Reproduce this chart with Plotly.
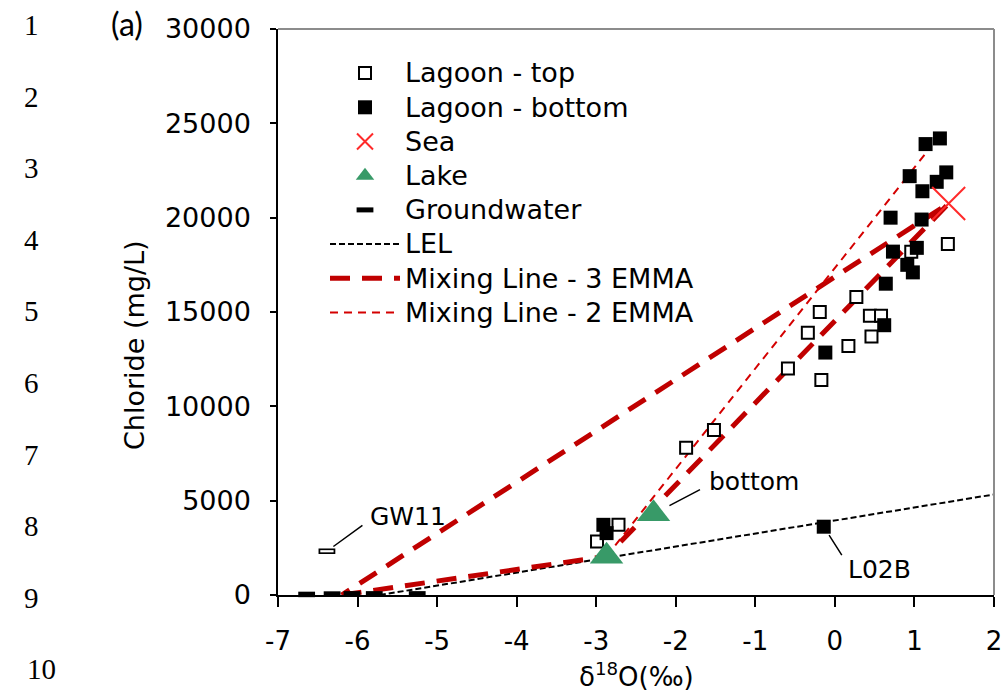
import plotly.graph_objects as go

# ---------------- data ----------------
lagoon_top_x = [1.42, 0.96, 0.27, -0.19, -0.34, 0.44, 0.58, 0.46, 0.17, -0.59, -0.17, -1.52, -1.87, -2.99, -2.72]
lagoon_top_y = [18600, 18200, 15800, 15000, 13900, 14800, 14800, 13700, 13200, 12000, 11400, 8750, 7800, 2830, 3720]

lagoon_bot_x = [1.32, 1.14, 1.40, 0.94, 1.28, 1.10, 0.70, 1.09, 0.73, 1.03, 0.91, 0.98, 0.64, 0.62, -0.12, -0.14, -2.91, -2.87]
lagoon_bot_y = [24200, 23900, 22400, 22200, 21900, 21400, 20000, 19900, 18200, 18400, 17500, 17100, 16500, 14300, 12850, 3620, 3720, 3280]

sea_x = [1.43]
sea_y = [20750]

lake_x = [-2.87, -2.28]
lake_y = [2050, 4300]

gw11_x = [-6.385]
gw11_y = [2320]
gw_x = [-6.64, -6.32, -6.07, -5.79, -5.25]
gw_y = [30, 50, 60, 60, 60]

lel_x = [-5.72, 2.0]
lel_y = [0, 5330]

gw_end_x = -6.2
gw_end_y = 0
emma3_x = [gw_end_x, lake_x[0], sea_x[0], gw_end_x]
emma3_y = [gw_end_y, lake_y[0], sea_y[0], gw_end_y]

emma2_x = [lake_x[0], 1.14]
emma2_y = [lake_y[0], 23400]

x_ticks = [-7, -6, -5, -4, -3, -2, -1, 0, 1, 2]
x_tick_labels = ["-7", "-6", "-5", "-4", "-3", "-2", "-1", "0", "1", "2"]
y_ticks = [0, 5000, 10000, 15000, 20000, 25000, 30000]
y_tick_labels = ["0", "5000", "10000", "15000", "20000", "25000", "30000"]

line_numbers = ["1", "2", "3", "4", "5", "6", "7", "8", "9", "10"]

# ---------------- layout geometry (pixels) ----------------
W, H = 1005, 697
L, R, T, B = 278, 994, 29, 595
PW, PH = R - L, B - T


def px(xp):
    return (xp - L) / PW


def py(yp):
    return (B - yp) / PH


SANS = "DejaVu Sans"


def leg(name):
    return '<span style="font-size:27px">' + name + '</span>'


fig = go.Figure()

# lines first (drawn underneath markers)
fig.add_trace(go.Scatter(x=lel_x, y=lel_y, mode="lines", name=leg("LEL"),
                         line=dict(color="black", width=2, dash="6px,3px"), legendrank=6))
fig.add_trace(go.Scatter(x=emma3_x, y=emma3_y, mode="lines", name=leg("Mixing Line - 3 EMMA"),
                         line=dict(color="#C00000", width=5, dash="20px,12px"), legendrank=7))
fig.add_trace(go.Scatter(x=emma2_x, y=emma2_y, mode="lines", name=leg("Mixing Line - 2 EMMA"),
                         line=dict(color="#D40000", width=2, dash="8px,6px"), legendrank=8))

# markers
fig.add_trace(go.Scatter(x=lagoon_top_x, y=lagoon_top_y, mode="markers", name=leg("Lagoon - top"),
                         marker=dict(symbol="square", size=12, color="white",
                                     line=dict(color="black", width=2)), legendrank=1))
fig.add_trace(go.Scatter(x=lagoon_bot_x, y=lagoon_bot_y, mode="markers", name=leg("Lagoon - bottom"),
                         marker=dict(symbol="square", size=14, color="black",
                                     line=dict(color="black", width=0)), legendrank=2))
fig.add_trace(go.Scatter(x=sea_x, y=sea_y, mode="markers", name=leg("Sea"),
                         marker=dict(symbol="x-thin-open", size=33, color="#FF2A2A",
                                     line=dict(color="#FF2A2A", width=2)), legendrank=3))
fig.add_trace(go.Scatter(x=lake_x, y=lake_y, mode="markers", name=leg("Lake"),
                         marker=dict(symbol="triangle-up", size=29, color="#389A68",
                                     line=dict(width=0)), legendrank=4))
fig.add_trace(go.Scatter(x=gw11_x + gw_x, y=gw11_y + gw_y, mode="markers", name=leg("Groundwater"),
                         cliponaxis=False,
                         marker=dict(symbol="line-ew", size=12, color="black",
                                     line=dict(color="black", width=5.5)), legendrank=5))
fig.add_trace(go.Scatter(x=gw11_x, y=gw11_y, mode="markers", showlegend=False, hoverinfo="skip",
                         marker=dict(symbol="line-ew", size=9.5, color="white",
                                     line=dict(color="white", width=2.2))))

annotations = []
# leader lines (arrows from label side to the point)
for (ax_, ay_, xx, yy, so) in [(37, -27, gw11_x[0], gw11_y[0], 8),
                                (48, -25, lake_x[1], lake_y[1], 18),
                                (19, 30, lagoon_bot_x[15], lagoon_bot_y[15], 10)]:
    annotations.append(dict(x=xx, y=yy, xref="x", yref="y", text="", showarrow=True,
                            arrowhead=0, arrowwidth=1.5, arrowcolor="black",
                            ax=ax_, ay=ay_, standoff=so))
# labels
for (txt, xx, yy, xs, ys) in [("GW11", gw11_x[0], gw11_y[0], 41, 35),
                              ("bottom", lake_x[1], lake_y[1], 53, 32),
                              ("L02B", lagoon_bot_x[15], lagoon_bot_y[15], 22, -43)]:
    annotations.append(dict(x=xx, y=yy, xref="x", yref="y", text=txt, showarrow=False,
                            xanchor="left", yanchor="middle", xshift=xs, yshift=ys,
                            font=dict(family=SANS, size=25, color="black")))

# axis titles
annotations.append(dict(x=0.5, y=py(675), xref="paper", yref="paper",
                        text="δ<sup>18</sup>O(‰)", showarrow=False,
                        xanchor="center", yanchor="middle",
                        font=dict(family=SANS, size=26, color="black")))
annotations.append(dict(x=px(134), y=py(345), xref="paper", yref="paper",
                        text="Chloride (mg/L)", showarrow=False, textangle=-90,
                        xanchor="center", yanchor="middle",
                        font=dict(family=SANS, size=27, color="black")))
# panel label
annotations.append(dict(x=px(127), y=py(24), xref="paper", yref="paper", text="(a)",
                        showarrow=False, xanchor="center", yanchor="middle",
                        font=dict(family="Lato", size=32, color="black")))
# manuscript line numbers
for i, t in enumerate(line_numbers):
    cx = 31 if len(t) == 1 else 41
    annotations.append(dict(x=px(cx), y=py(25 + 71.6 * i), xref="paper", yref="paper", text=t,
                            showarrow=False, xanchor="center", yanchor="middle",
                            font=dict(family="Liberation Serif", size=29, color="black")))

fig.update_layout(
    width=W, height=H,
    margin=dict(l=L, r=W - R, t=T, b=H - B, autoexpand=False),
    paper_bgcolor="white", plot_bgcolor="white",
    showlegend=True,
    legend=dict(x=px(325), y=py(51), xanchor="left", yanchor="top",
                bgcolor="rgba(0,0,0,0)", borderwidth=0,
                font=dict(family=SANS, size=24, color="black"),
                itemwidth=70, tracegroupgap=0),
    annotations=annotations,
    shapes=[
        dict(type="line", xref="paper", yref="paper", x0=0, x1=1, y0=1, y1=1,
             line=dict(color="#8c8c8c", width=2)),
        dict(type="line", xref="paper", yref="paper", x0=1, x1=1, y0=0, y1=1,
             line=dict(color="#8c8c8c", width=2)),
    ],
)

fig.update_xaxes(range=[-7, 2], tickvals=x_ticks, ticktext=x_tick_labels,
                 showgrid=False, zeroline=False, showline=True, linecolor="black", linewidth=1.5,
                 ticks="outside", ticklen=10, tickwidth=1.5, tickcolor="black",
                 ticklabelstandoff=12,
                 tickfont=dict(family=SANS, size=26, color="black"))
fig.update_yaxes(range=[0, 30000], tickvals=y_ticks, ticktext=y_tick_labels,
                 showgrid=False, zeroline=False, showline=True, linecolor="black", linewidth=1.5,
                 ticks="outside", ticklen=6, tickwidth=1.5, tickcolor="black",
                 ticklabelstandoff=14,
                 tickfont=dict(family=SANS, size=27, color="black"))

fig.write_html("out.html")
